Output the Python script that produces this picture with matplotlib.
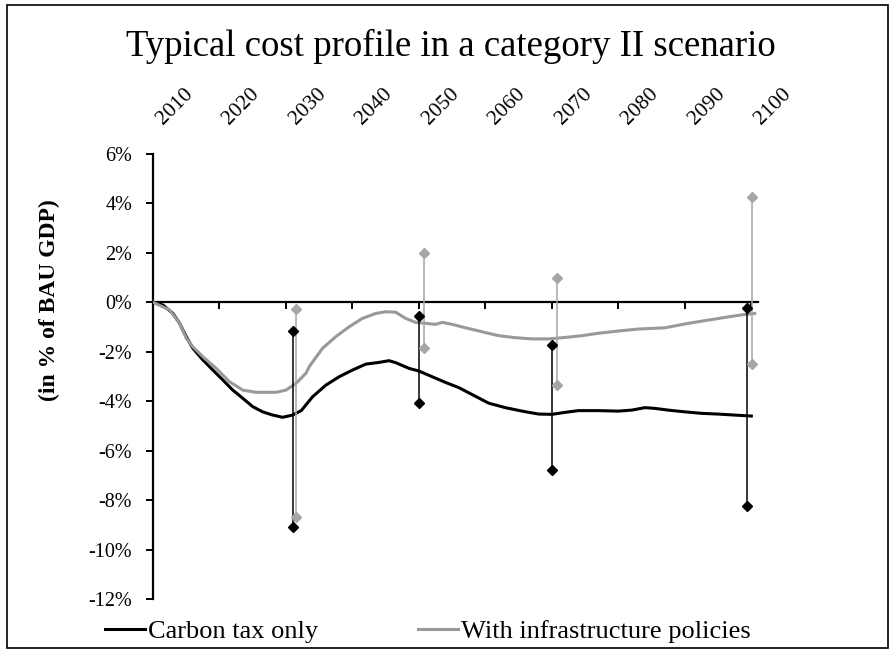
import matplotlib.pyplot as plt
from matplotlib.patches import Rectangle

plt.rcParams['font.family'] = ['Liberation Serif', 'DejaVu Serif']
plt.rcParams['axes.unicode_minus'] = False

# curve (year, % of BAU GDP)
carbon_years = [2010, 2011.5, 2013, 2014, 2015, 2016, 2017.5, 2019, 2020.5, 2022,
                2023.5, 2025, 2026.5, 2028, 2029.5, 2031, 2032.3, 2034, 2036, 2038,
                2040, 2042, 2044, 2045.5, 2046.5, 2048.5, 2050, 2052, 2054, 2056,
                2058.5, 2060.5, 2063, 2065.5, 2068, 2070, 2072, 2074, 2077, 2080,
                2082, 2084, 2085.5, 2087.5, 2090, 2092.5, 2095, 2097.5, 2100]
carbon_vals = [0, -0.11, -0.45, -0.85, -1.39, -1.86, -2.33, -2.74, -3.14, -3.55,
               -3.88, -4.22, -4.43, -4.56, -4.65, -4.56, -4.38, -3.82, -3.35, -3.01,
               -2.74, -2.50, -2.43, -2.36, -2.44, -2.67, -2.78, -3.01, -3.24, -3.45,
               -3.80, -4.08, -4.26, -4.40, -4.52, -4.53, -4.45, -4.38, -4.38, -4.40,
               -4.36, -4.26, -4.29, -4.36, -4.43, -4.49, -4.52, -4.56, -4.60]

infra_years = [2010, 2012.5, 2014, 2015, 2016, 2017.5, 2019.5, 2021.5, 2023.5, 2025.5,
               2028.5, 2030, 2031.5, 2033, 2033.6, 2035.5, 2037.5, 2039.5, 2041.5, 2043.5,
               2045, 2046.5, 2048, 2049.5, 2051, 2052.5, 2053.5, 2055, 2057, 2059.5,
               2062, 2064.5, 2067, 2069.5, 2072, 2074.5, 2077, 2080, 2083, 2087,
               2090.5, 2093.5, 2096.5, 2099, 2100.5]
infra_vals = [0, -0.31, -0.85, -1.45, -1.80, -2.20, -2.67, -3.21, -3.55, -3.64,
              -3.64, -3.55, -3.28, -2.87, -2.56, -1.86, -1.39, -0.99, -0.65, -0.45,
              -0.38, -0.40, -0.65, -0.81, -0.85, -0.89, -0.81, -0.89, -1.03, -1.19,
              -1.35, -1.43, -1.48, -1.48, -1.42, -1.35, -1.25, -1.16, -1.08, -1.03,
              -0.85, -0.72, -0.59, -0.49, -0.45]

# ranges (min / max markers)
carbon_bar_years = [2031.0, 2050.0, 2070.0, 2099.3]
carbon_bar_low = [-9.09, -4.09, -6.80, -8.24]
carbon_bar_high = [-1.17, -0.55, -1.71, -0.23]
infra_bar_years = [2031.5, 2050.75, 2070.8, 2100.15]
infra_bar_low = [-8.70, -1.83, -3.33, -2.48]
infra_bar_high = [-0.28, 2.0, 1.0, 4.28]

decades = [2010, 2020, 2030, 2040, 2050, 2060, 2070, 2080, 2090, 2100]
y_ticks = [-12, -10, -8, -6, -4, -2, 0, 2, 4, 6]
y_tick_labels = ['-12%', '-10%', '-8%', '-6%', '-4%', '-2%', '0%', '2%', '4%', '6%']

black = '#000000'
grey = '#999999'
grey_bar = '#a6a6a6'

fig = plt.figure(figsize=(8.95, 6.51), dpi=100)
ax = fig.add_axes([153 / 895, 52 / 651, 605 / 895, 445 / 651])

ax.plot(carbon_years, carbon_vals, color=black, lw=2.2, label='Carbon tax only', zorder=3)
ax.plot(infra_years, infra_vals, color=grey, lw=2.2, label='With infrastructure policies', zorder=3)

ax.vlines(carbon_bar_years, carbon_bar_low, carbon_bar_high, color=black, lw=1.1, zorder=4)
ax.vlines(infra_bar_years, infra_bar_low, infra_bar_high, color=grey_bar, lw=1.1, zorder=4)
for yr, lo, hi in zip(carbon_bar_years, carbon_bar_low, carbon_bar_high):
    ax.plot([yr, yr], [lo, hi], ls='none', marker='D', ms=5.5, color=black, zorder=5)
for yr, lo, hi in zip(infra_bar_years, infra_bar_low, infra_bar_high):
    ax.plot([yr, yr], [lo, hi], ls='none', marker='D', ms=5.5, color=grey_bar, zorder=5)

ax.set_xlim(2010, 2101)
ax.set_ylim(-12, 6)

ax.spines['top'].set_visible(False)
ax.spines['right'].set_visible(False)
ax.spines['bottom'].set_position(('data', 0))
ax.spines['bottom'].set_linewidth(1.6)
ax.spines['left'].set_linewidth(1.6)

ax.set_xticks(decades)
ax.tick_params(axis='x', direction='out', length=5, width=1.4, labelbottom=False)
ax.set_yticks(y_ticks)
ax.set_yticklabels(y_tick_labels)
ax.tick_params(axis='y', direction='out', length=5, width=1.4, pad=10, labelsize=14.5)

# year labels above the plot
top = ax.secondary_xaxis('top')
top.set_xticks(decades)
top.set_xticklabels([str(d) for d in decades])
top.spines['top'].set_visible(False)
top.tick_params(length=0, pad=28, labelsize=15.5)
for lab in top.get_xticklabels():
    lab.set_rotation(45)
    lab.set_ha('left')
    lab.set_va('top')
    lab.set_rotation_mode('anchor')

ax.set_ylabel('(in % of BAU GDP)', fontsize=17, fontweight='bold')
ax.yaxis.set_label_coords(-0.153, 0.672)

fig.text(451 / 895, 1 - 46 / 651, 'Typical cost profile in a category II scenario',
         fontsize=26.5, ha='center', va='center')

ax.legend(loc='center left', bbox_to_anchor=(105 / 895, 20 / 651),
          bbox_transform=fig.transFigure, ncol=2, frameon=False, fontsize=19,
          borderpad=0, borderaxespad=0, handlelength=1.5, handletextpad=0.12,
          columnspacing=3.8)

fig.patches.append(Rectangle((7 / 895, 3 / 651), 881 / 895, 643 / 651,
                             transform=fig.transFigure, fill=False,
                             edgecolor='black', lw=1.2))

fig.savefig('out.png', dpi=100)
